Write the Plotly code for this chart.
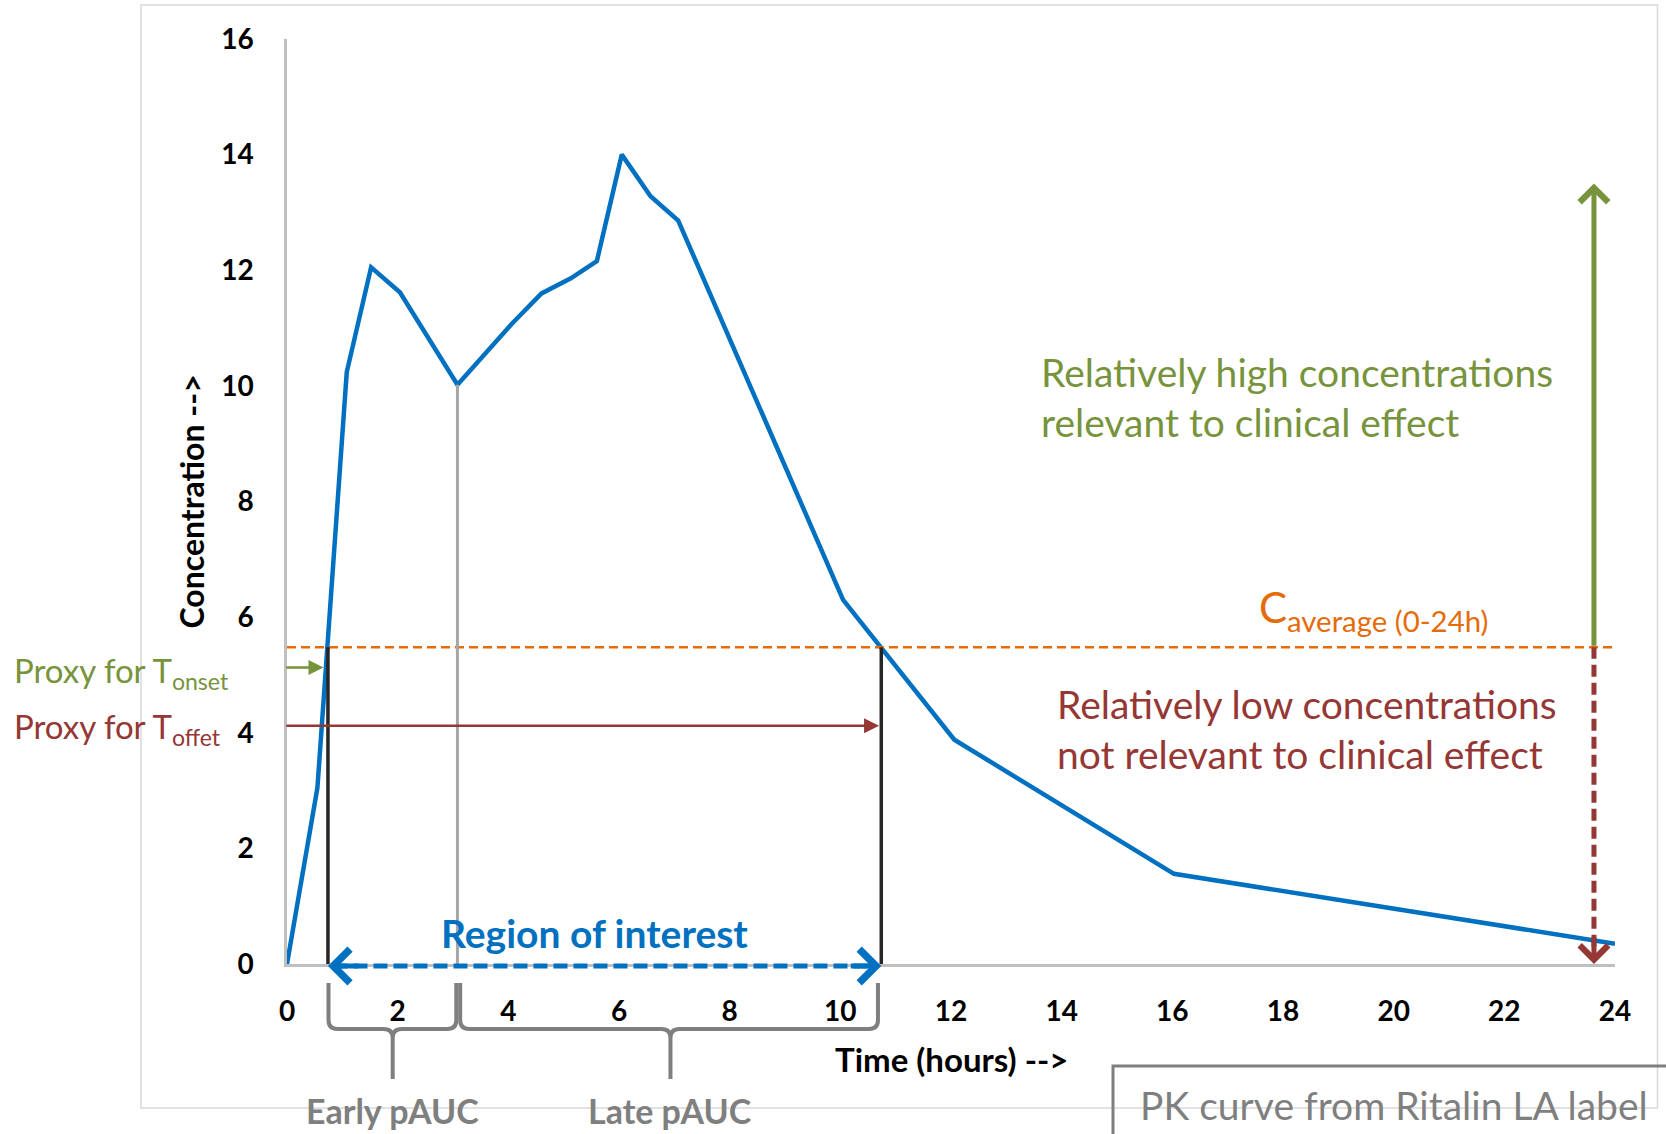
import plotly.graph_objects as go

# ---------------- data ----------------
time_h = [0, 0.55, 1.08, 1.52, 2.04, 3.08, 4.06, 4.6, 5.13, 5.6, 6.05, 6.57, 7.07, 10.05, 12.06, 16.03, 24.0]
conc = [0, 3.05, 10.24, 12.05, 11.62, 10.02, 11.07, 11.6, 11.86, 12.16, 14.0, 13.28, 12.86, 6.3, 3.88, 1.56, 0.35]

c_average = 5.48          # C average (0-24h)
t_onset = 0.74            # proxy for T onset
t_offset = 10.74          # proxy for T offset
t_split = 3.08            # early / late pAUC split (curve minimum)
c_split = 10.02
t_range_arrow = 23.62     # position of the high/low concentration arrows
c_high_top = 13.5
y_proxy_onset = 5.13
y_proxy_offset = 4.12

x_ticks = list(range(0, 25, 2))
y_ticks = list(range(0, 17, 2))

# ---------------- styles ----------------
BLUE = "#0070C0"
GREEN = "#77933C"
RED = "#953735"
ORANGE = "#E46C0A"
GREY = "#7F7F7F"
AXIS = "#BFBFBF"
FONT = "Lato"

W, H = 1666, 1134
ML, MR, MT, MB = 287, 51, 39, 170
PH = H - MT - MB
PW = W - ML - MR
XU = PW / 24.0  # px per hour


def pb(px):
    """paper y for a distance in px below the x axis"""
    return -px / PH


fig = go.Figure()

# main PK curve
fig.add_trace(go.Scatter(x=time_h, y=conc, mode="lines",
                         line=dict(color=BLUE, width=4.5), hoverinfo="skip"))
# C average
fig.add_trace(go.Scatter(x=[0, 24], y=[c_average, c_average], mode="lines",
                         line=dict(color=ORANGE, width=2.5, dash="9px,5px"), hoverinfo="skip"))
# vertical markers
fig.add_trace(go.Scatter(x=[t_split, t_split], y=[0, c_split], mode="lines",
                         line=dict(color="#A6A6A6", width=3), hoverinfo="skip"))
fig.add_trace(go.Scatter(x=[t_onset, t_onset], y=[0, c_average], mode="lines",
                         line=dict(color="#262626", width=3.5), hoverinfo="skip"))
fig.add_trace(go.Scatter(x=[t_offset, t_offset], y=[0, c_average], mode="lines",
                         line=dict(color="#262626", width=3.5), hoverinfo="skip"))

shapes = []
# outer chart frame
shapes.append(dict(type="rect", xref="paper", yref="paper",
                   x0=(141 - ML) / PW, x1=(1657.5 - ML) / PW,
                   y0=pb(1108 - (H - MB)), y1=1 + (MT - 5) / PH,
                   line=dict(color="#D9D9D9", width=1.5), layer="below"))
# PK source box
shapes.append(dict(type="rect", xref="paper", yref="paper",
                   x0=(1113 - ML) / PW, x1=1.2, y0=-0.4, y1=pb(1066 - (H - MB)),
                   line=dict(color=GREY, width=3)))
# region of interest dashed line
shapes.append(dict(type="line", xref="x", yref="paper",
                   x0=t_onset + 0.1, x1=t_offset - 0.1, y0=pb(2), y1=pb(2),
                   line=dict(color=BLUE, width=5, dash="14px,6px")))
# low concentrations dashed arrow body
shapes.append(dict(type="line", xref="x", yref="y",
                   x0=t_range_arrow, x1=t_range_arrow, y0=0.3, y1=c_average,
                   line=dict(color=RED, width=5, dash="12px,6px")))


def brace(xl, xr, xc):
    yt, yh, ytip = pb(19), pb(65), pb(115)
    rx, ry = 9 / XU, 9 / PH
    return (f"M{xl},{yt} L{xl},{yh + ry} Q{xl},{yh} {xl + rx},{yh} L{xc - rx},{yh} "
            f"Q{xc},{yh} {xc},{yh - ry} L{xc},{ytip} "
            f"M{xc},{yh - ry} Q{xc},{yh} {xc + rx},{yh} L{xr - rx},{yh} "
            f"Q{xr},{yh} {xr},{yh + ry} L{xr},{yt}")


early_c = (t_onset + t_split) / 2
late_c = 6.93
shapes.append(dict(type="path", xref="x", yref="paper",
                   path=brace(t_onset + 0.01, t_split - 0.02, early_c),
                   line=dict(color=GREY, width=4)))
shapes.append(dict(type="path", xref="x", yref="paper",
                   path=brace(t_split + 0.05, t_offset - 0.06, late_c),
                   line=dict(color=GREY, width=4)))

ann = []
# arrows
ann.append(dict(x=t_range_arrow, y=c_high_top, ax=t_range_arrow, ay=c_average,
                xref="x", yref="y", axref="x", ayref="y", text="", showarrow=True,
                arrowhead=4, arrowwidth=5, arrowsize=1.1, arrowcolor=GREEN))
ann.append(dict(x=t_range_arrow, y=0, ax=0, ay=-28, xref="x", yref="y", text="",
                showarrow=True, arrowhead=4, arrowwidth=5, arrowsize=1.1, arrowcolor=RED))
ann.append(dict(x=t_onset, y=0, ax=32, ay=0, yshift=-2, xref="x", yref="y", text="",
                showarrow=True, arrowhead=4, arrowwidth=5, arrowsize=1.3, arrowcolor=BLUE))
ann.append(dict(x=t_offset, y=0, ax=-32, ay=0, yshift=-2, xref="x", yref="y", text="",
                showarrow=True, arrowhead=4, arrowwidth=5, arrowsize=1.3, arrowcolor=BLUE))
ann.append(dict(x=t_onset - 0.08, y=y_proxy_onset, ax=-0.04, ay=y_proxy_onset,
                xref="x", yref="y", axref="x", ayref="y", text="", showarrow=True,
                arrowhead=2, arrowwidth=2.5, arrowsize=1.2, arrowcolor=GREEN))
ann.append(dict(x=t_offset - 0.04, y=y_proxy_offset, ax=-0.04, ay=y_proxy_offset,
                xref="x", yref="y", axref="x", ayref="y", text="", showarrow=True,
                arrowhead=2, arrowwidth=2.5, arrowsize=1.2, arrowcolor=RED))

# texts
ann.append(dict(x=13.59, y=10.24, text="Relatively high concentrations", xanchor="left",
                yanchor="middle", showarrow=False, font=dict(family=FONT, size=39, color=GREEN)))
ann.append(dict(x=13.59, y=9.38, text="relevant to clinical effect", xanchor="left",
                yanchor="middle", showarrow=False, font=dict(family=FONT, size=39, color=GREEN)))
ann.append(dict(x=13.88, y=4.5, text="Relatively low concentrations", xanchor="left",
                yanchor="middle", showarrow=False, font=dict(family=FONT, size=39, color=RED)))
ann.append(dict(x=13.88, y=3.63, text="not relevant to clinical effect", xanchor="left",
                yanchor="middle", showarrow=False, font=dict(family=FONT, size=39, color=RED)))
ann.append(dict(x=17.53, y=c_average, yshift=37, text="C<sub>average (0-24h)</sub>",
                xanchor="left", yanchor="middle", showarrow=False,
                font=dict(family=FONT, size=42, color=ORANGE)))
ann.append(dict(x=5.55, y=0, yshift=31, text="<b>Region of interest</b>",
                xanchor="center", yanchor="middle", showarrow=False,
                font=dict(family=FONT, size=39, color=BLUE)))
ann.append(dict(xref="paper", x=0, xshift=-275, y=y_proxy_onset, yshift=-5,
                text="Proxy for T<sub>onset</sub>", xanchor="left", yanchor="middle",
                showarrow=False, font=dict(family=FONT, size=33, color=GREEN)))
ann.append(dict(xref="paper", x=0, xshift=-275, y=y_proxy_offset, yshift=-3,
                text="Proxy for T<sub>offet</sub>", xanchor="left", yanchor="middle",
                showarrow=False, font=dict(family=FONT, size=33, color=RED)))
ann.append(dict(x=early_c, y=0, yshift=-146, text="<b>Early pAUC</b>", showarrow=False,
                xanchor="center", yanchor="middle",
                font=dict(family=FONT, size=34, color=GREY)))
ann.append(dict(x=late_c, y=0, yshift=-146, text="<b>Late pAUC</b>", showarrow=False,
                xanchor="center", yanchor="middle",
                font=dict(family=FONT, size=34, color=GREY)))
ann.append(dict(xref="paper", yref="paper", x=0.5, y=0, yshift=-95,
                xanchor="center", yanchor="middle",
                text="<b>Time (hours) --></b>", showarrow=False,
                font=dict(family=FONT, size=33, color="black")))
ann.append(dict(xref="paper", yref="paper", x=0, xshift=-96, y=0.5, textangle=-90,
                xanchor="center", yanchor="middle",
                text="<b>Concentration --></b>", showarrow=False,
                font=dict(family=FONT, size=32, color="black")))
ann.append(dict(xref="paper", yref="paper", x=(1394 - ML) / PW, y=pb(1105 - (H - MB)),
                xanchor="center", yanchor="middle",
                text="PK curve from Ritalin LA label", showarrow=False,
                font=dict(family=FONT, size=39, color=GREY)))

fig.update_layout(
    width=W, height=H,
    margin=dict(l=ML, r=MR, t=MT, b=MB, pad=0),
    paper_bgcolor="white", plot_bgcolor="white",
    showlegend=False, hovermode=False,
    shapes=shapes, annotations=ann,
    xaxis=dict(range=[0, 24], tickvals=x_ticks, ticktext=[str(v) for v in x_ticks],
               showgrid=False, zeroline=False, showline=True, linecolor=AXIS, linewidth=2.5,
               ticks="", ticklabelstandoff=21,
               tickfont=dict(family=FONT, size=28, color="black", weight="bold")),
    yaxis=dict(range=[0, 16], tickvals=y_ticks, ticktext=[str(v) for v in y_ticks],
               showgrid=False, zeroline=False, showline=True, linecolor=AXIS, linewidth=2.5,
               ticks="", ticklabelstandoff=25,
               tickfont=dict(family=FONT, size=28, color="black", weight="bold")),
)

fig.write_html("out.html")
